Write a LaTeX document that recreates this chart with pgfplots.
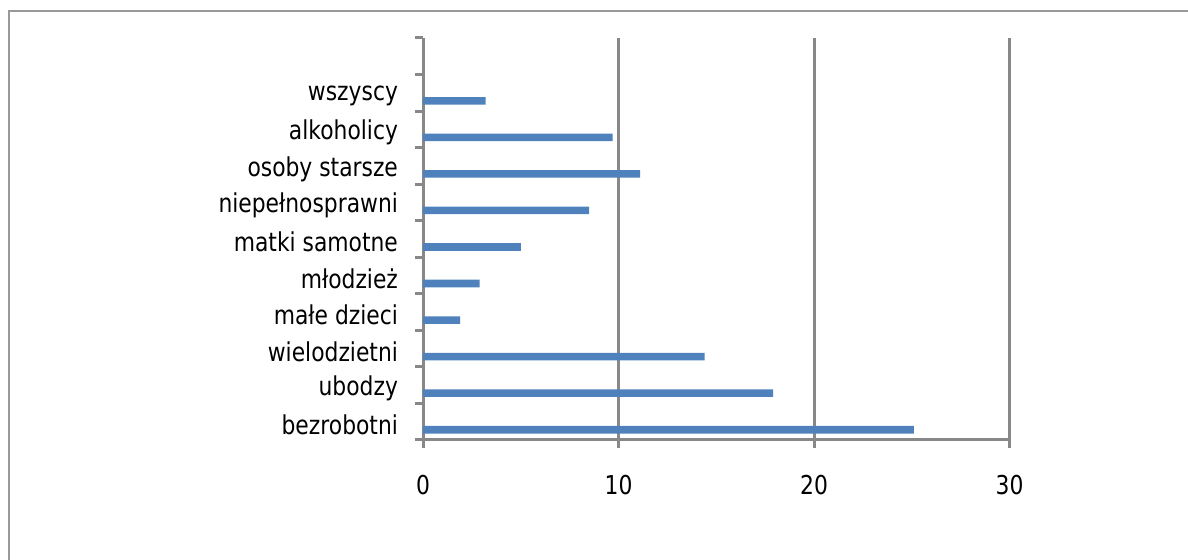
\documentclass[border=0pt]{standalone}
\usepackage{fontspec}
\setmainfont{DejaVu Sans}[FakeStretch=0.84]
\usepackage{pgfplots}
\pgfplotsset{compat=1.18}

\definecolor{barblue}{HTML}{4F81BD}
\definecolor{axgray}{HTML}{888888}
\definecolor{framegray}{HTML}{999999}

\pgfplotstableread{
y val
0 25.1
1 17.9
2 14.4
3 1.9
4 2.9
5 5.0
6 8.5
7 11.1
8 9.7
9 3.2
}\groups

\begin{document}
\begin{tikzpicture}[x=1pt,y=1pt]
  % 1 px of the 1188x560 reference = 0.5pt
  \useasboundingbox (0,0) rectangle (594,280);
  \draw[framegray, line width=1.2pt] (4.5,-5) -- (4.5,274.5) -- (600,274.5);
  \begin{axis}[
    at={(211.5pt,60pt)}, anchor=south west,
    scale only axis,
    width=293.3pt, height=201pt,
    xmin=0, xmax=30,
    ymin=-0.5, ymax=10.5,
    axis x line=bottom, axis y line=left,
    axis line style={axgray, line width=1.5pt, -},
    xtick={0,10,20,30},
    ytick={0,...,9},
    yticklabels={bezrobotni, ubodzy, wielodzietni, małe dzieci, młodzież,
      matki samotne, niepełnosprawni, osoby starsze, alkoholicy, wszyscy},
    minor ytick={-0.5,0.5,...,10.5},
    tick align=outside,
    major tick length=4pt, minor tick length=4pt,
    major y tick style={draw=none},
    tick style={axgray, line width=1.5pt},
    xmajorgrids,
    major grid style={axgray, line width=1.5pt},
    tick label style={font=\fontsize{13}{15}\selectfont, text=black},
    /pgf/number format/assume math mode=true,
    xticklabel style={yshift=-10pt},
    yticklabel style={xshift=-5pt, yshift=-1.5pt},
    clip=false,
  ]
    \addplot[xbar, bar width=3.8pt, bar shift=-4pt, fill=barblue, draw=none]
      table[x=val, y=y] {\groups};
  \end{axis}
\end{tikzpicture}
\end{document}
